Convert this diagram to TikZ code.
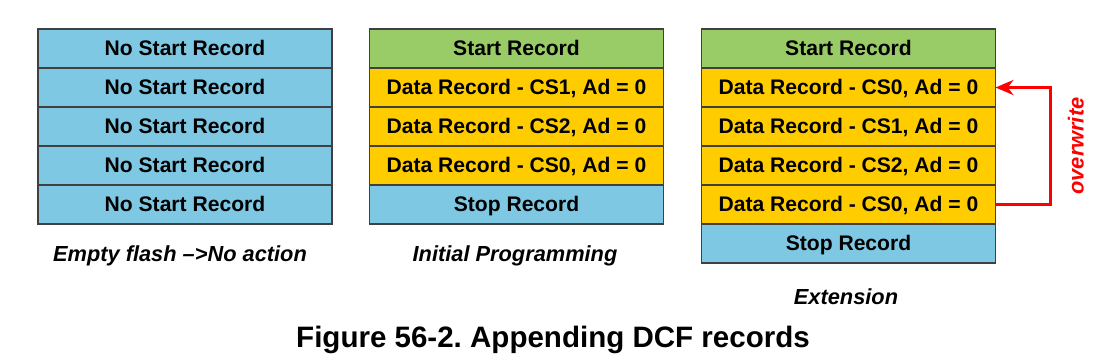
\documentclass[tikz,border=0pt]{standalone}
\usepackage{fontspec}
\setmainfont{Liberation Sans}
\usetikzlibrary{arrows.meta, positioning}
\frenchspacing

\definecolor{recblue}{RGB}{126,200,227}
\definecolor{recgreen}{RGB}{153,204,102}
\definecolor{recyellow}{RGB}{255,204,0}
\definecolor{ovred}{RGB}{255,0,0}

\begin{document}
\begin{tikzpicture}[
  x=0.025cm, y=-0.025cm,
  rec/.style={draw=black!75, line width=0.8pt, minimum width=7.35cm, minimum height=0.975cm,
              inner sep=0pt, outer sep=0pt, text height=12pt, text depth=2pt,
              font=\fontsize{15}{18}\selectfont\bfseries},
  norec/.style={rec, fill=recblue},
  startrec/.style={rec, fill=recgreen},
  datarec/.style={rec, fill=recyellow},
  stoprec/.style={rec, fill=recblue},
  caption/.style={font=\fontsize{15.5}{18}\selectfont\bfseries\itshape, inner sep=0pt},
  flow/.style={-{Stealth[length=4.5mm, width=3.8mm]}, draw=ovred, line width=1.8pt},
  node distance=0pt
]
\useasboundingbox (0,0) rectangle (1103,361);

% empty flash
\node[norec] (e1) at (185,48.5) {No Start Record};
\node[norec, below=of e1] (e2) {No Start Record};
\node[norec, below=of e2] (e3) {No Start Record};
\node[norec, below=of e3] (e4) {No Start Record};
\node[norec, below=of e4] (e5) {No Start Record};
\node[caption] (capempty) at (180,256) {Empty flash \textendash>No action};

% initial programming
\node[startrec] (p0) at (516.5,48.5) {Start Record};
\node[datarec, below=of p0] (p1) {Data Record - CS1, Ad = 0};
\node[datarec, below=of p1] (p2) {Data Record - CS2, Ad = 0};
\node[datarec, below=of p2] (p3) {Data Record - CS0, Ad = 0};
\node[stoprec, below=of p3] (p4) {Stop Record};
\node[caption] (capinit) at (515,256) {Initial Programming};

% extension
\node[startrec] (x0) at (848.5,48.5) {Start Record};
\node[datarec, below=of x0] (x1) {Data Record - CS0, Ad = 0};
\node[datarec, below=of x1] (x2) {Data Record - CS1, Ad = 0};
\node[datarec, below=of x2] (x3) {Data Record - CS2, Ad = 0};
\node[datarec, below=of x3] (x4) {Data Record - CS0, Ad = 0};
\node[stoprec, below=of x4] (x5) {Stop Record};
\node[caption] (capext) at (846,297) {Extension};

\draw[flow] (x4.east) -- ++(55,0) |- node[pos=0.25, rotate=90, anchor=north, inner sep=4mm,
  text=ovred, font=\fontsize{15.5}{18}\selectfont\bfseries\itshape]{overwrite} (x1.east);

\node[font=\fontsize{21}{25}\selectfont\bfseries] (title) at (553,340) {Figure 56-2. Appending DCF records};

\end{tikzpicture}
\end{document}
